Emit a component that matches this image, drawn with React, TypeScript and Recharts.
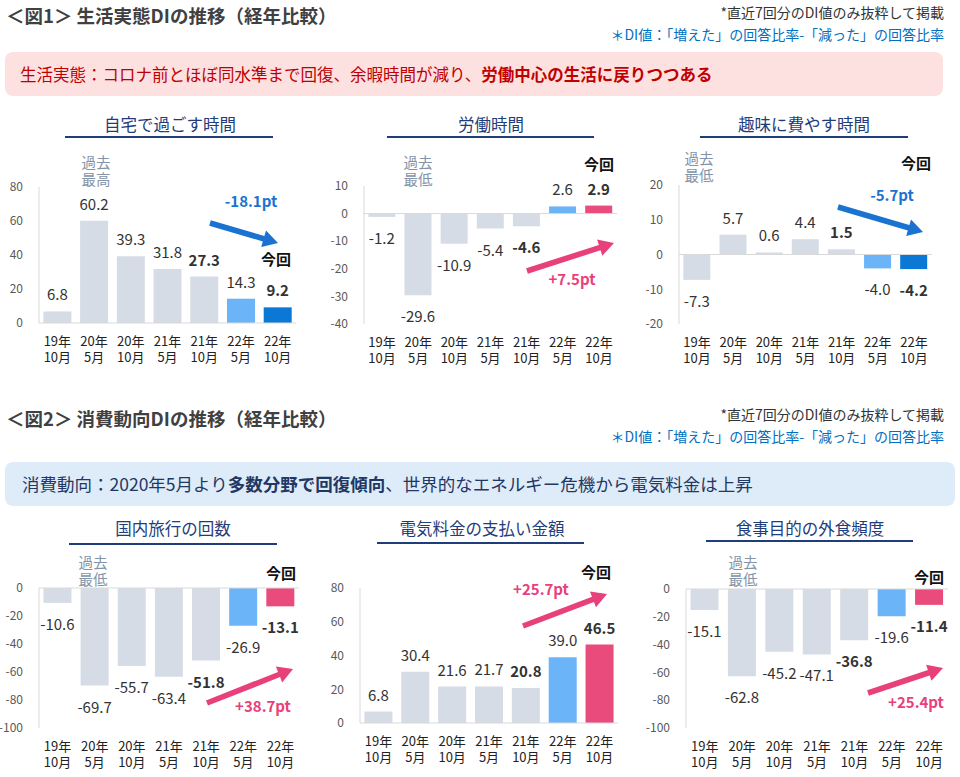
import { BarChart, Bar, XAxis, YAxis, Cell, ReferenceLine } from 'recharts'

const FONT = "'Noto Sans CJK JP', 'Noto Sans', sans-serif"

const periods = ['19年\n10月', '20年\n5月', '20年\n10月', '21年\n5月', '21年\n10月', '22年\n5月', '22年\n10月']

const homeTime = [6.8, 60.2, 39.3, 31.8, 27.3, 14.3, 9.2]
const workTime = [-1.2, -29.6, -10.9, -5.4, -4.6, 2.6, 2.9]
const hobbyTime = [-7.3, 5.7, 0.6, 4.4, 1.5, -4.0, -4.2]
const travel = [-10.6, -69.7, -55.7, -63.4, -51.8, -26.9, -13.1]
const power = [6.8, 30.4, 21.6, 21.7, 20.8, 39.0, 46.5]
const dining = [-15.1, -62.8, -45.2, -47.1, -36.8, -19.6, -11.4]

const ticks0to80 = [0, 20, 40, 60, 80]
const ticksWork = [-40, -30, -20, -10, 0, 10]
const ticksHobby = [-20, -10, 0, 10, 20]
const ticksNeg100 = [-100, -80, -60, -40, -20, 0]

const GRAY = '#d6dce5'
const LIGHT_BLUE = '#6cb4f8'
const DARK_BLUE = '#0a78d4'
const PINK = '#e94b7c'
const ARROW_BLUE = '#1a73d0'
const ARROW_PINK = '#e8407a'

function XTick({ x, y, payload }: any) {
  const [a, b] = String(payload.value).split('\n')
  return (
    <g>
      <text x={x} y={y + 15} textAnchor="middle" fontSize={13} fill="#222" fontFamily={FONT}>{a}</text>
      <text x={x} y={y + 31} textAnchor="middle" fontSize={13} fill="#222" fontFamily={FONT}>{b}</text>
    </g>
  )
}

function renderLabel(props: any) {
  const { x, y, width, height, value, index } = props
  const top = Math.min(y, y + height)
  const bottom = Math.max(y, y + height)
  const ty = value < 0 ? bottom + 27 : top - 11
  return (
    <text
      x={x + width / 2}
      y={ty}
      textAnchor="middle"
      fontSize={15}
      fill="#333"
      fontFamily={FONT}
      fontWeight={index === 4 || index === 6 ? 700 : 400}
    >
      {Number(value).toFixed(1)}
    </text>
  )
}

interface ChartProps {
  values: number[]
  domain: [number, number]
  ticks: number[]
  lastColor: string
  x0: number
  x1: number
  yTop: number
  yBot: number
}

function MiniBar({ values, domain, ticks, lastColor, x0, x1, yTop, yBot }: ChartProps) {
  const data = periods.map((p, i) => ({ name: p, value: values[i] }))
  const colors = periods.map((_, i) => (i === 5 ? LIGHT_BLUE : i === 6 ? lastColor : GRAY))
  return (
    <div style={{ position: 'absolute', left: x0 - 40, top: yTop - 50 }}>
      <BarChart
        width={x1 - x0 + 55}
        height={yBot - yTop + 100}
        data={data}
        margin={{ top: 50, right: 15, bottom: 2, left: 6 }}
        barCategoryGap="12%"
      >
        <XAxis dataKey="name" axisLine={false} tickLine={false} height={48} interval={0} tick={<XTick />} />
        <YAxis
          width={34}
          domain={domain}
          ticks={ticks}
          interval={0}
          axisLine={{ stroke: '#d9d9d9' }}
          tickLine={false}
          tickSize={14}
          tick={{ fontSize: 12, fill: '#595959', fontFamily: FONT }}
        />
        <ReferenceLine y={0} stroke="#d9d9d9" />
        <Bar dataKey="value" isAnimationActive={false} label={renderLabel}>
          {data.map((_, i) => (
            <Cell key={i} fill={colors[i]} />
          ))}
        </Bar>
      </BarChart>
    </div>
  )
}

function arrowPoints(x1: number, y1: number, x2: number, y2: number) {
  const dx = x2 - x1
  const dy = y2 - y1
  const len = Math.hypot(dx, dy)
  const ux = dx / len
  const uy = dy / len
  const nx = -uy
  const ny = ux
  const head = 15
  const sw = 2.8
  const hw = 8.5
  const bx = x2 - ux * head
  const by = y2 - uy * head
  const pts = [
    [x1 + nx * sw, y1 + ny * sw],
    [bx + nx * sw, by + ny * sw],
    [bx + nx * hw, by + ny * hw],
    [x2, y2],
    [bx - nx * hw, by - ny * hw],
    [bx - nx * sw, by - ny * sw],
    [x1 - nx * sw, y1 - ny * sw],
  ]
  return pts.map((p) => p.join(',')).join(' ')
}

const arrows = [
  { p: [210, 223, 278, 243], c: ARROW_BLUE, t: '-18.1pt', tx: 251, ty: 207 },
  { p: [527, 271, 614, 243], c: ARROW_PINK, t: '+7.5pt', tx: 572, ty: 285 },
  { p: [838, 207, 923, 232], c: ARROW_BLUE, t: '-5.7pt', tx: 892, ty: 201 },
  { p: [207, 703, 293, 669], c: ARROW_PINK, t: '+38.7pt', tx: 263, ty: 712 },
  { p: [523, 626, 607, 594], c: ARROW_PINK, t: '+25.7pt', tx: 541, ty: 595 },
  { p: [868, 693, 943, 668], c: ARROW_PINK, t: '+25.4pt', tx: 916, ty: 708 },
]

const notes = [
  { x: 170, y: 124, t: '自宅で過ごす時間', u: [65, 273, 136] },
  { x: 491, y: 124, t: '労働時間', u: [387, 594, 136] },
  { x: 804, y: 124, t: '趣味に費やす時間', u: [700, 908, 136] },
  { x: 173, y: 528, t: '国内旅行の回数', u: [69, 277, 543] },
  { x: 482, y: 528, t: '電気料金の支払い金額', u: [377, 584, 542] },
  { x: 810, y: 528, t: '食事目的の外食頻度', u: [706, 913, 540] },
]

const pastLabels = [
  { x: 96, y: 162, t: ['過去', '最高'] },
  { x: 418, y: 162, t: ['過去', '最低'] },
  { x: 699, y: 158, t: ['過去', '最低'] },
  { x: 93, y: 562, t: ['過去', '最低'] },
  { x: 743, y: 562, t: ['過去', '最低'] },
]

const nowLabels = [
  [276, 259],
  [599, 164],
  [916, 163],
  [281, 573],
  [596, 572],
  [929, 577],
]

function Header({ y, title, noteY }: { y: number; title: string; noteY: number }) {
  return (
    <>
      <div style={{ position: 'absolute', left: 6, top: y - 13, fontSize: 18.5, lineHeight: '26px', fontWeight: 700, color: '#404040', whiteSpace: 'nowrap' }}>
        {title}
      </div>
      <div style={{ position: 'absolute', right: 16, top: noteY - 10, fontSize: 14, color: '#333', textAlign: 'right', lineHeight: '22px', whiteSpace: 'nowrap' }}>
        <div>*直近7回分のDI値のみ抜粋して掲載</div>
        <div style={{ color: '#0070c0' }}>＊DI値：「増えた」の回答比率-「減った」の回答比率</div>
      </div>
    </>
  )
}

export default function App() {
  return (
    <div style={{ position: 'absolute', left: 0, top: 0, width: 960, height: 777, background: '#fff', fontFamily: FONT, overflow: 'hidden' }}>
      <Header y={15} title="＜図1＞ 生活実態DIの推移（経年比較）" noteY={11} />
      <div
        style={{
          position: 'absolute', left: 5, top: 52, width: 938, height: 44, background: '#fde0e0', borderRadius: 8,
          color: '#c00000', fontSize: 16.5, lineHeight: '44px', paddingLeft: 15, boxSizing: 'border-box', whiteSpace: 'nowrap',
        }}
      >
        生活実態：コロナ前とほぼ同水準まで回復、余暇時間が減り、<b>労働中心の生活に戻りつつある</b>
      </div>

      <Header y={418} title="＜図2＞ 消費動向DIの推移（経年比較）" noteY={413} />
      <div
        style={{
          position: 'absolute', left: 5, top: 462, width: 950, height: 44, background: '#deebf9', borderRadius: 8,
          color: '#1f3864', fontSize: 17.5, lineHeight: '44px', paddingLeft: 17, boxSizing: 'border-box', whiteSpace: 'nowrap',
        }}
      >
        消費動向：2020年5月より<b>多数分野で回復傾向</b>、世界的なエネルギー危機から電気料金は上昇
      </div>

      {notes.map((n, i) => (
        <div key={i}>
          <div style={{ position: 'absolute', left: n.x - 150, top: n.y - 12, width: 300, textAlign: 'center', fontSize: 16.5, color: '#1f3d7a', lineHeight: '24px' }}>
            {n.t}
          </div>
          <div style={{ position: 'absolute', left: n.u[0], top: n.u[2], width: n.u[1] - n.u[0], height: 2, background: '#1f3d7a' }} />
        </div>
      ))}

      <MiniBar values={homeTime} domain={[0, 80]} ticks={ticks0to80} lastColor={DARK_BLUE} x0={39} x1={296} yTop={187} yBot={323} />
      <MiniBar values={workTime} domain={[-40, 10]} ticks={ticksWork} lastColor={PINK} x0={364} x1={617} yTop={186} yBot={324} />
      <MiniBar values={hobbyTime} domain={[-20, 20]} ticks={ticksHobby} lastColor={DARK_BLUE} x0={679} x1={932} yTop={185} yBot={324} />
      <MiniBar values={travel} domain={[-100, 0]} ticks={ticksNeg100} lastColor={PINK} x0={39} x1={299} yTop={588} yBot={728} />
      <MiniBar values={power} domain={[0, 80]} ticks={ticks0to80} lastColor={PINK} x0={360} x1={618} yTop={588} yBot={723} />
      <MiniBar values={dining} domain={[-100, 0]} ticks={ticksNeg100} lastColor={PINK} x0={686} x1={948} yTop={589} yBot={728} />

      {pastLabels.map((p, i) =>
        p.t.map((line, j) => (
          <div
            key={`${i}-${j}`}
            style={{ position: 'absolute', left: p.x - 30, top: p.y - 8 + j * 17, width: 60, textAlign: 'center', fontSize: 14.5, lineHeight: '16px', color: '#8494a8' }}
          >
            {line}
          </div>
        ))
      )}
      {nowLabels.map(([x, y], i) => (
        <div key={i} style={{ position: 'absolute', left: x - 30, top: y - 11, width: 60, textAlign: 'center', fontSize: 15, lineHeight: '22px', fontWeight: 700, color: '#111' }}>
          今回
        </div>
      ))}

      <svg width={960} height={777} style={{ position: 'absolute', left: 0, top: 0, pointerEvents: 'none' }}>
        {arrows.map((a, i) => (
          <g key={i}>
            <polygon points={arrowPoints(a.p[0], a.p[1], a.p[2], a.p[3])} fill={a.c} />
            <text x={a.tx} y={a.ty} textAnchor="middle" fontSize={15} fontWeight={700} fill={a.c} fontFamily={FONT}>
              {a.t}
            </text>
          </g>
        ))}
      </svg>
    </div>
  )
}
